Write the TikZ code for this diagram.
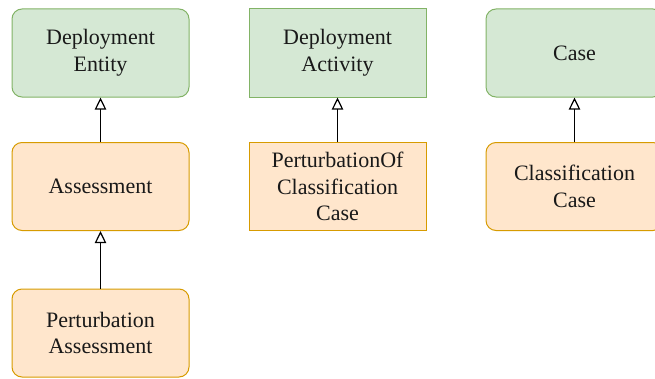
\documentclass[tikz,border=0pt]{standalone}
\usepackage{fontspec}
\setmainfont{Liberation Serif}
\usetikzlibrary{arrows.meta}

\definecolor{genfill}{HTML}{D5E8D4}
\definecolor{gendraw}{HTML}{82B366}
\definecolor{subfill}{HTML}{FFE6CC}
\definecolor{subdraw}{HTML}{D79B00}

\tikzset{
  box/.style={draw, line width=0.75pt, minimum width=132.75pt, minimum height=66pt,
    align=center, inner sep=0pt, font=\fontsize{16.5}{20}\selectfont, text=black!90},
  general/.style={box, fill=genfill, draw=gendraw},
  special/.style={box, fill=subfill, draw=subdraw},
  round/.style={rounded corners=7.5pt},
  inherits/.style={line width=0.9pt, -{Triangle[open,length=9pt,width=8.5pt]}}
}

\begin{document}
\begin{tikzpicture}[x=0.75pt,y=-0.75pt]
\useasboundingbox (0,0) rectangle (655,378);

% top row: parent classes
\node[general,round] (entity)   at (100.5,53) {Deployment\\Entity};
\node[general]       (activity) at (337.5,53) {Deployment\\Activity};
\node[general,round] (case)     at (574.5,53) {Case};

% second and third rows: subclasses
\node[special,round] (assess)   at (100.5,186.5) {Assessment};
\node[special]       (pocc)     at (337.5,186.5) {PerturbationOf\\Classification\\Case};
\node[special,round] (classcase) at (574.5,186.5) {Classification\\Case};
\node[special,round] (passess)  at (100.5,333)   {Perturbation\\Assessment};

\foreach \c/\p in {assess/entity, pocc/activity, classcase/case, passess/assess}
  \draw[inherits] (\c) -- (\p);
\end{tikzpicture}
\end{document}
